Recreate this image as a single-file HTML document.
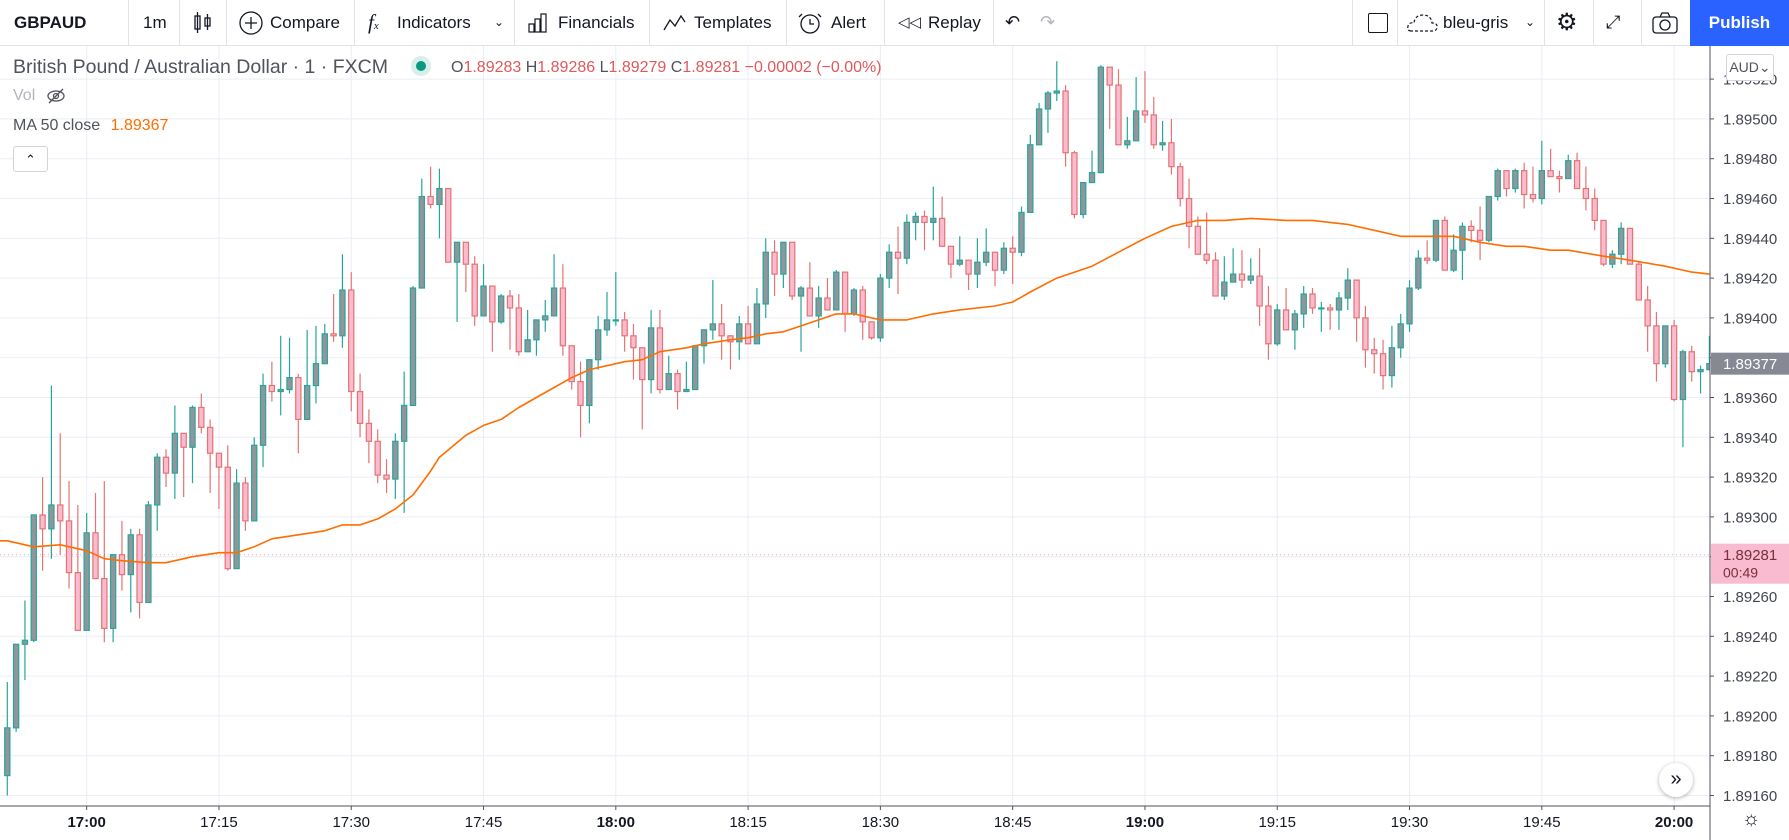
<!DOCTYPE html>
<html><head><meta charset="utf-8">
<style>
html,body{margin:0;padding:0;background:#fff;}
body{width:1789px;height:840px;position:relative;overflow:hidden;font-family:"Liberation Sans",sans-serif;color:#131722;}
.tb{position:absolute;left:0;top:0;width:1789px;height:45px;border-bottom:1px solid #e0e3eb;background:#fff;}
.ti{position:absolute;top:0;height:45px;line-height:45px;font-size:17px;color:#131722;white-space:nowrap;}
.sep{position:absolute;top:0;width:1px;height:45px;background:#e0e3eb;}
svg text{font-family:"Liberation Sans",sans-serif;}
</style></head><body>
<div class="tb">
  <div class="ti" style="left:14px;font-weight:bold">GBPAUD</div>
  <div class="sep" style="left:128px"></div>
  <div class="ti" style="left:143px">1m</div>
  <div class="sep" style="left:179px"></div>
  <svg class="ti" style="left:192px;top:11px;height:24px" width="22" height="24"><g stroke="#131722" fill="none" stroke-width="1.3"><rect x="3" y="5" width="5" height="13"/><line x1="5.5" y1="1" x2="5.5" y2="22"/><rect x="13" y="7" width="5" height="8"/><line x1="15.5" y1="3" x2="15.5" y2="19"/></g></svg>
  <div class="sep" style="left:226px"></div>
  <svg class="ti" style="left:238px;top:10px;height:26px" width="26" height="26"><circle cx="13" cy="13" r="11" stroke="#131722" fill="none" stroke-width="1.3"/><path d="M13 7v12M7 13h12" stroke="#131722" stroke-width="1.3"/></svg>
  <div class="ti" style="left:270px">Compare</div>
  <div class="sep" style="left:354px"></div>
  <div class="ti" style="left:368px;font-style:italic;font-family:'Liberation Serif',serif;font-size:21px">f<span style="font-size:11px">x</span></div>
  <div class="ti" style="left:397px">Indicators</div>
  <div class="ti" style="left:494px;font-size:12px">&#8964;</div>
  <div class="sep" style="left:514px"></div>
  <svg class="ti" style="left:527px;top:12px;height:22px" width="22" height="22"><g stroke="#131722" fill="none" stroke-width="1.2"><rect x="2" y="12" width="5" height="8"/><rect x="8" y="7" width="5" height="13"/><rect x="14" y="2" width="5" height="18"/></g></svg>
  <div class="ti" style="left:558px">Financials</div>
  <div class="sep" style="left:649px"></div>
  <svg class="ti" style="left:662px;top:12px;height:22px" width="24" height="22"><path d="M2 18 L8 8 L13 14 L19 4 L23 10" stroke="#131722" fill="none" stroke-width="1.3"/></svg>
  <div class="ti" style="left:694px">Templates</div>
  <div class="sep" style="left:786px"></div>
  <svg class="ti" style="left:797px;top:10px;height:26px" width="26" height="26"><circle cx="13" cy="14" r="9" stroke="#131722" fill="none" stroke-width="1.3"/><path d="M13 9v5h4M5 4l-3 3M21 4l3 3" stroke="#131722" fill="none" stroke-width="1.3"/></svg>
  <div class="ti" style="left:831px">Alert</div>
  <div class="sep" style="left:884px"></div>
  <div class="ti" style="left:898px;font-size:15px">&#9665;&#9665;</div>
  <div class="ti" style="left:928px">Replay</div>
  <div class="sep" style="left:993px"></div>
  <div class="ti" style="left:1005px;font-size:18px">&#8630;</div>
  <div class="ti" style="left:1040px;font-size:18px;color:#b2b5be">&#8631;</div>
  <div class="sep" style="left:1352px"></div>
  <div style="position:absolute;left:1368px;top:13px;width:18px;height:18px;border:1.5px solid #131722;border-radius:2px"></div>
  <div class="sep" style="left:1397px"></div>
  <svg class="ti" style="left:1407px;top:11px;height:24px" width="32" height="24"><path d="M4 20 Q0 20 1 15 Q2 11 7 12 Q8 4 16 4 Q24 4 25 12 Q31 12 30 17 Q29 20 26 20 Z" stroke="#131722" fill="none" stroke-width="1.2" stroke-dasharray="3 2"/></svg>
  <div class="ti" style="left:1443px">bleu-gris</div>
  <div class="ti" style="left:1525px;font-size:12px">&#8964;</div>
  <div class="sep" style="left:1544px"></div>
  <div class="ti" style="left:1556px;font-size:24px">&#9881;</div>
  <div class="sep" style="left:1593px"></div>
  <div class="ti" style="left:1606px;font-size:18px">&#10530;</div>
  <div class="sep" style="left:1641px"></div>
  <svg class="ti" style="left:1651px;top:11px;height:24px" width="28" height="24"><rect x="2" y="6" width="24" height="16" rx="3" stroke="#131722" fill="none" stroke-width="1.3"/><path d="M9 6l2-4h6l2 4" stroke="#131722" fill="none" stroke-width="1.3"/><circle cx="14" cy="14" r="5" stroke="#131722" fill="none" stroke-width="1.3"/></svg>
  <div style="position:absolute;left:1690px;top:0;width:99px;height:46px;background:#2962ff;color:#fff;font-size:17px;font-weight:bold;line-height:46px;text-align:center">Publish</div>
</div>

<svg id="chart" width="1789" height="794" style="position:absolute;left:0;top:46px" viewBox="0 46 1789 794">
  <defs><clipPath id="pane"><rect x="0" y="46" width="1710" height="760"/></clipPath></defs>
  <g id="grid"></g>
  <g id="candles" clip-path="url(#pane)"></g>
  <g id="ma" clip-path="url(#pane)"></g>
  <line x1="1710" y1="46" x2="1710" y2="840" stroke="#50535e" stroke-width="1"/>
  <line x1="0" y1="806" x2="1710" y2="806" stroke="#50535e" stroke-width="1"/>
  <g id="paxis"></g>
  <g id="taxis"></g>
</svg>

<div style="position:absolute;left:13px;top:56px;font-size:19.5px;color:#50535e;white-space:nowrap">British Pound / Australian Dollar · 1 · FXCM</div>
<div style="position:absolute;left:411px;top:56px;width:20px;height:20px;border-radius:50%;background:#d8efec"><div style="position:absolute;left:5px;top:5px;width:10px;height:10px;border-radius:50%;background:#089981"></div></div>
<div style="position:absolute;left:451px;top:59px;font-size:16px;color:#e0585b;white-space:nowrap"><span style="color:#50535e">O</span>1.89283 <span style="color:#50535e">H</span>1.89286 <span style="color:#50535e">L</span>1.89279 <span style="color:#50535e">C</span>1.89281 −0.00002 (−0.00%)</div>
<div style="position:absolute;left:13px;top:87px;font-size:16px;color:#b2b5be">Vol</div>
<svg style="position:absolute;left:45px;top:86px" width="22" height="20"><ellipse cx="11" cy="10" rx="8" ry="5" stroke="#50535e" fill="none" stroke-width="1.3"/><circle cx="11" cy="10" r="2.5" stroke="#50535e" fill="none" stroke-width="1.3"/><line x1="4" y1="17" x2="18" y2="3" stroke="#50535e" stroke-width="1.3"/></svg>
<div style="position:absolute;left:13px;top:117px;font-size:16px;color:#50535e;white-space:nowrap">MA 50 close <span style="color:#ff6d00;margin-left:6px">1.89367</span></div>
<div style="position:absolute;left:13px;top:146px;width:33px;height:24px;border:1px solid #d1d4dc;border-radius:3px;background:#fff;text-align:center;font-size:13px;line-height:26px;color:#131722">&#8963;</div>
<div style="position:absolute;left:1726px;top:54px;width:46px;height:25px;border:1px solid #d1d4dc;border-radius:3px;background:#fff;font-size:14px;line-height:25px;text-align:center;color:#50535e">AUD&#8964;</div>
<div style="position:absolute;left:1659px;top:763px;width:34px;height:34px;border-radius:50%;background:#fff;box-shadow:0 1px 4px rgba(0,0,0,.3);text-align:center;line-height:32px;font-size:20px;color:#131722">»</div>
<div style="position:absolute;left:1742px;top:808px;font-size:20px;color:#131722">&#9788;</div>

<script>
// prices in units of 0.00001 (e.g. 189170 = 1.89170); candle i = minute 16:51 + i
const opens=[189170,189194,189236,189238,189301,189294,189306,189298,189272,189243,189292,189269,189244,189281,189271,189291,189257,189306,189330,189322,189342,189335,189355,189345,189332,189325,189274,189317,189298,189336,189366,189363,189364,189370,189349,189366,189377,189392,189391,189414,189363,189347,189338,189321,189319,189338,189356,189415,189461,189457,189465,189428,189438,189427,189401,189416,189398,189411,189405,189383,189389,189399,189401,189415,189386,189368,189356,189379,189394,189399,189399,189391,189385,189369,189395,189364,189372,189363,189364,189386,189394,189397,189391,189388,189397,189387,189407,189433,189422,189438,189411,189415,189401,189410,189404,189423,189402,189414,189398,189390,189420,189433,189430,189448,189451,189448,189450,189436,189427,189429,189422,189428,189433,189424,189435,189433,189453,189487,189505,189513,189514,189483,189452,189468,189473,189526,189517,189487,189489,189504,189502,189487,189488,189476,189460,189446,189432,189429,189411,189418,189422,189419,189421,189406,189387,189404,189394,189402,189412,189405,189405,189404,189410,189419,189400,189384,189382,189371,189385,189397,189415,189430,189429,189449,189424,189434,189446,189444,189439,189461,189474,189465,189474,189462,189460,189474,189471,189470,189479,189465,189460,189449,189427,189432,189445,189427,189409,189396,189377,189396,189359,189383,189373,189374];
const highs=[189217,189236,189258,189301,189320,189366,189342,189318,189306,189302,189312,189318,189281,189298,189294,189294,189308,189332,189334,189356,189342,189356,189362,189349,189332,189336,189324,189320,189340,189372,189378,189391,189390,189372,189394,189396,189397,189412,189432,189423,189372,189354,189344,189329,189342,189373,189416,189470,189476,189475,189465,189438,189438,189431,189427,189416,189412,189414,189412,189404,189399,189409,189432,189427,189386,189378,189379,189401,189413,189423,189403,189397,189385,189404,189404,189381,189374,189378,189386,189394,189419,189407,189391,189401,189406,189415,189440,189439,189438,189438,189416,189428,189416,189420,189424,189423,189415,189416,189398,189422,189437,189446,189452,189453,189454,189466,189461,189436,189441,189429,189440,189445,189433,189438,189441,189456,189492,189508,189514,189529,189517,189484,189468,189484,189527,189526,189525,189501,189521,189524,189511,189499,189500,189478,189470,189451,189453,189433,189431,189435,189434,189430,189435,189416,189407,189415,189404,189416,189415,189408,189407,189413,189425,189419,189406,189390,189389,189396,189402,189419,189434,189439,189449,189451,189442,189448,189449,189456,189461,189475,189474,189475,189478,189476,189489,189485,189474,189482,189483,189476,189465,189449,189434,189448,189445,189428,189416,189403,189396,189399,189384,189386,189376,189391];
const lows=[189160,189192,189218,189237,189273,189279,189281,189264,189243,189243,189269,189237,189237,189263,189252,189249,189257,189293,189315,189309,189310,189317,189342,189312,189304,189273,189274,189293,189298,189325,189358,189351,189362,189332,189349,189357,189377,189388,189385,189353,189340,189327,189317,189312,189309,189302,189356,189415,189455,189440,189428,189398,189413,189396,189401,189383,189397,189384,189381,189383,189381,189393,189401,189381,189364,189340,189347,189374,189391,189396,189383,189369,189344,189362,189362,189364,189354,189363,189364,189377,189389,189379,189374,189379,189387,189387,189400,189411,189415,189409,189383,189401,189395,189404,189404,189393,189401,189389,189389,189388,189415,189412,189427,189439,189434,189439,189436,189420,189426,189414,189415,189426,189416,189422,189417,189431,189453,189487,189493,189509,189476,189450,189450,189468,189473,189495,189487,189485,189489,189498,189485,189484,189472,189456,189435,189432,189427,189411,189409,189418,189415,189417,189396,189379,189386,189394,189384,189395,189402,189393,189394,189394,189404,189388,189375,189372,189364,189365,189380,189393,189414,189427,189428,189424,189423,189419,189438,189429,189438,189459,189461,189463,189455,189458,189457,189471,189463,189470,189465,189454,189444,189426,189425,189427,189427,189409,189383,189368,189375,189358,189335,189368,189362,189374];
const closes=[189194,189236,189238,189301,189294,189306,189298,189272,189243,189292,189269,189244,189281,189271,189291,189257,189306,189330,189322,189342,189335,189355,189345,189332,189325,189274,189317,189298,189336,189366,189363,189364,189370,189349,189366,189377,189392,189391,189414,189363,189347,189338,189321,189319,189338,189356,189415,189461,189457,189465,189428,189438,189427,189401,189416,189398,189411,189405,189383,189389,189399,189401,189415,189386,189368,189356,189379,189394,189399,189399,189391,189385,189369,189395,189364,189372,189363,189364,189386,189394,189397,189391,189388,189397,189387,189407,189433,189422,189438,189411,189415,189401,189410,189404,189423,189402,189414,189398,189390,189420,189433,189430,189448,189451,189448,189450,189436,189427,189429,189422,189428,189433,189424,189435,189433,189453,189487,189505,189513,189514,189483,189452,189468,189473,189526,189517,189487,189489,189504,189502,189487,189488,189476,189460,189446,189432,189429,189411,189418,189422,189419,189421,189406,189387,189404,189394,189402,189412,189405,189405,189404,189410,189419,189400,189384,189382,189371,189385,189397,189415,189430,189429,189449,189424,189434,189446,189444,189439,189461,189474,189465,189474,189462,189460,189474,189471,189470,189479,189465,189460,189449,189427,189432,189445,189427,189409,189396,189377,189396,189359,189383,189373,189374,189377];
// MA 50 close sampled at candle indexes
const maIdx=[0,3,6,9,11,13,16,18,21,24,26,28,30,33,36,38,40,42,44,46,48,49,52,54,56,58,60,62,64,66,68,70,72,74,77,79,82,84,86,88,90,92,94,96,99,102,105,108,112,114,116,119,123,126,129,132,135,138,141,145,148,152,155,158,161,164,167,170,172,175,177,181,184,188,191,193];
const maVal=[189288,189285,189286,189283,189279,189278,189277,189277,189280,189282,189282,189285,189289,189291,189293,189296,189296,189299,189304,189311,189323,189330,189341,189346,189349,189355,189360,189365,189370,189374,189376,189378,189379,189383,189385,189387,189389,189390,189392,189393,189396,189399,189402,189402,189399,189399,189402,189404,189406,189408,189413,189420,189426,189433,189440,189446,189449,189449,189450,189449,189449,189447,189444,189441,189441,189441,189438,189436,189436,189434,189434,189431,189429,189426,189423,189422];
const priceTicks=[189160,189180,189200,189220,189240,189260,189280,189300,189320,189340,189360,189380,189400,189420,189440,189460,189480,189500,189520];
const timeTickIdx=[9,24,39,54,69,84,99,114,129,144,159,174,189];
const timeLabels=["17:00","17:15","17:30","17:45","18:00","18:15","18:30","18:45","19:00","19:15","19:30","19:45","20:00"];
const lastPrice=189377, markerPrice=189281;

const NS="http://www.w3.org/2000/svg";
const X=i=>7.3+8.819*i;
const Y=p=>118.9+(189500-p)*1.99;
const fmt=p=>(p/100000).toFixed(5);
function mk(tag,attrs,parent){const e=document.createElementNS(NS,tag);for(const k in attrs)e.setAttribute(k,attrs[k]);parent.appendChild(e);return e;}

const grid=document.getElementById('grid');
priceTicks.forEach(p=>{
  const l=mk('line',{x1:0,x2:1710,y1:Y(p),y2:Y(p),stroke:'#eaeef4','stroke-width':1},grid);
  
  
});
timeTickIdx.forEach(i=>{
  const l=mk('line',{x1:X(i),x2:X(i),y1:46,y2:806,stroke:'#eaeef4','stroke-width':1},grid);
  
  
});
const dl=mk('line',{x1:0,x2:1710,y1:Y(markerPrice),y2:Y(markerPrice),stroke:'#f7a8bb','stroke-width':1,'stroke-dasharray':'1 3'},grid);



const cg=document.getElementById('candles');
for(let i=0;i<opens.length;i++){
  const o=opens[i],h=highs[i],l=lows[i],c=closes[i];
  const up=c>=o;
  const edge=up?'#26a69a':'#e57373';
  const fill=up?'#93959c':'#f8bbd0';
  const g=mk('g',{},cg);
  
  
  mk('line',{x1:X(i),x2:X(i),y1:Y(h),y2:Y(l),stroke:edge,'stroke-width':1.2},g);
  const top=Y(Math.max(o,c)),bot=Y(Math.min(o,c));
  mk('rect',{x:X(i)-2.6,y:top,width:5.2,height:Math.max(bot-top,1),fill:fill,stroke:edge,'stroke-width':1.2},g);
}

const mg=document.getElementById('ma');
let d='M0 '+Y(maVal[0]);
maIdx.forEach((k,j)=>{d+=' L'+X(k).toFixed(1)+' '+Y(maVal[j]).toFixed(1);});
const mp=mk('path',{d:d,fill:'none',stroke:'#ff6d00','stroke-width':1.6,'stroke-linejoin':'round'},mg);



const pa=document.getElementById('paxis');
priceTicks.forEach(p=>{
  mk('line',{x1:1710,x2:1714,y1:Y(p),y2:Y(p),stroke:'#50535e'},pa);
  const t=mk('text',{x:1723,y:Y(p)+5.5,'font-size':15,fill:'#434651'},pa);
  t.textContent=fmt(p);
  
  
});
const lg=mk('g',{},pa);


mk('rect',{x:1711,y:Y(lastPrice)-11,width:78,height:22,fill:'#868993'},lg);
const lt=mk('text',{x:1723,y:Y(lastPrice)+5.5,'font-size':15,fill:'#fff'},lg);
lt.textContent=fmt(lastPrice);
const mgp=mk('g',{},pa);


mk('rect',{x:1711,y:Y(markerPrice)-11,width:78,height:40,fill:'#f8bbd0'},mgp);
const mt=mk('text',{x:1723,y:Y(markerPrice)+5.5,'font-size':15,fill:'#7a2e3e'},mgp);
mt.textContent=fmt(markerPrice);
const mt2=mk('text',{x:1723,y:Y(markerPrice)+23,'font-size':14,fill:'#7a2e3e'},mgp);
mt2.textContent='00:49';

const ta=document.getElementById('taxis');
timeTickIdx.forEach((i,j)=>{
  mk('line',{x1:X(i),x2:X(i),y1:806,y2:810,stroke:'#50535e'},ta);
  const t=mk('text',{x:X(i),y:827,'font-size':15,'text-anchor':'middle',fill:'#131722','font-weight':timeLabels[j].endsWith(':00')?'bold':'normal'},ta);
  t.textContent=timeLabels[j];
  
  
});
</script>
</body></html>
